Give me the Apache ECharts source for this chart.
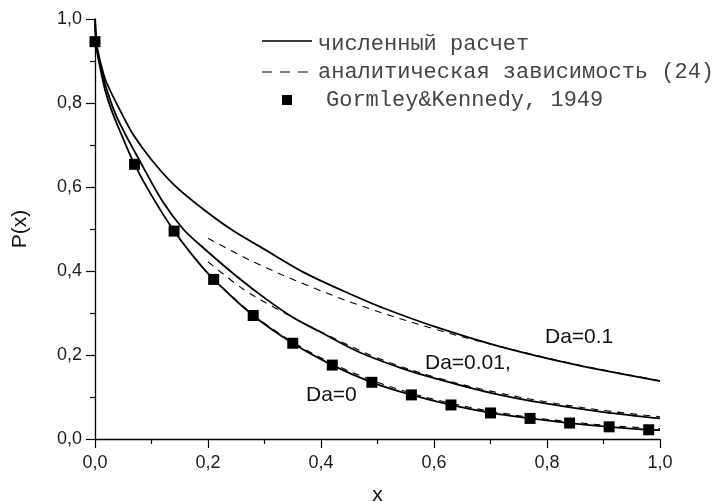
<!DOCTYPE html>
<html>
<head>
    <meta charset="utf-8">
    <title>P(x)</title>
    <script src="https://cdn.jsdelivr.net/npm/echarts@6/dist/echarts.min.js"></script>
</head>
<body style="margin:0">
    <div id="main" style="width:718px;height:502px;"></div>
    <script type="text/javascript">
        // численный расчет, Da=0
        var xDa0 = [0, 0.003, 0.009, 0.018, 0.03, 0.047, 0.07, 0.1, 0.14, 0.177, 0.21, 0.28, 0.35, 0.42, 0.49, 0.56, 0.63, 0.7, 0.77, 0.84, 0.91, 0.98, 1.0];
        var yDa0 = [1.0, 0.93, 0.885, 0.83, 0.78, 0.724, 0.654, 0.58, 0.495, 0.43, 0.38, 0.294, 0.228, 0.176, 0.135, 0.105, 0.081, 0.062, 0.049, 0.038, 0.029, 0.022, 0.021];
        // численный расчет, Da=0.01
        var xDa001 = [0, 0.003, 0.01, 0.02, 0.04, 0.085, 0.12, 0.156, 0.186, 0.25, 0.3, 0.35, 0.4, 0.469, 0.55, 0.6, 0.7, 0.8, 0.9, 1.0];
        var yDa001 = [1.0, 0.935, 0.885, 0.835, 0.762, 0.648, 0.565, 0.5, 0.462, 0.388, 0.336, 0.29, 0.254, 0.206, 0.165, 0.145, 0.110, 0.084, 0.064, 0.049];
        // численный расчет, Da=0.1
        var xDa01 = [0, 0.003, 0.01, 0.02, 0.053, 0.068, 0.1, 0.14, 0.186, 0.242, 0.292, 0.372, 0.469, 0.504, 0.6, 0.717, 0.85, 1.0];
        var yDa01 = [1.0, 0.94, 0.895, 0.85, 0.76, 0.724, 0.665, 0.605, 0.553, 0.498, 0.458, 0.395, 0.335, 0.315, 0.268, 0.220, 0.177, 0.138];
        // аналитическая зависимость (24)
        var xAn0 = [0.21, 0.28, 0.35, 0.42, 0.49, 0.56, 0.63, 0.7, 0.77, 0.84, 0.91, 0.98, 1.0];
        var yAn0 = [0.381, 0.296, 0.231, 0.180, 0.140, 0.109, 0.085, 0.066, 0.052, 0.041, 0.032, 0.026, 0.025];
        var xAn001 = [0.2, 0.26, 0.319, 0.4, 0.5, 0.6, 0.7, 0.8, 0.9, 1.0];
        var yAn001 = [0.422, 0.359, 0.312, 0.255, 0.193, 0.148, 0.114, 0.088, 0.068, 0.053];
        var xAn01 = [0.2, 0.28, 0.372, 0.469, 0.6, 0.7, 0.85, 1.0];
        var yAn01 = [0.478, 0.422, 0.368, 0.318, 0.262, 0.226, 0.178, 0.139];
        // Gormley&Kennedy, 1949
        var xExp = [0, 0.07, 0.14, 0.21, 0.28, 0.35, 0.42, 0.49, 0.56, 0.63, 0.7, 0.77, 0.84, 0.91, 0.98];
        var yExp = [0.946, 0.654, 0.495, 0.38, 0.294, 0.228, 0.176, 0.135, 0.105, 0.081, 0.062, 0.049, 0.038, 0.029, 0.022];

        var ticks = [0, 0.2, 0.4, 0.6, 0.8, 1.0];

        function zip(xs, ys) {
            return xs.map(function (x, i) { return [x, ys[i]]; });
        }
        function fmt(v) {
            return v.toFixed(1).replace('.', ',');
        }

        var myChart = echarts.init(document.getElementById('main'));

        var axisCommon = {
            type: 'value',
            min: ticks[0],
            max: ticks[ticks.length - 1],
            interval: 0.2,
            nameLocation: 'middle',
            nameTextStyle: { fontFamily: 'Liberation Sans', fontSize: 21, color: '#111' },
            axisLine: { lineStyle: { color: '#000', width: 1.3 } },
            axisTick: { inside: false, length: 9, lineStyle: { color: '#000', width: 1.2 } },
            minorTick: { show: true, splitNumber: 2, length: 5, lineStyle: { color: '#000', width: 1.2 } },
            splitLine: { show: false },
            axisLabel: { fontFamily: 'Liberation Sans', fontSize: 18, color: '#1a1a1a', formatter: fmt }
        };

        function solid(xs, ys) {
            return {
                type: 'line', data: zip(xs, ys), showSymbol: false, smooth: 0.35,
                lineStyle: { color: '#000', width: 1.8 }, z: 2
            };
        }
        function dashed(xs, ys) {
            return {
                type: 'line', data: zip(xs, ys), showSymbol: false, smooth: 0.35,
                lineStyle: { color: '#000', width: 1.1, type: [7, 6] }, z: 3
            };
        }

        option = {
            animation: false,
            grid: { left: 95, right: 58, top: 19, bottom: 63, outerBoundsMode: 'none' },
            xAxis: Object.assign({}, axisCommon, {
                name: 'x', nameGap: 46,
                axisLabel: Object.assign({}, axisCommon.axisLabel, { margin: 15 })
            }),
            yAxis: Object.assign({}, axisCommon, {
                name: 'P(x)', nameGap: 64, nameRotate: 90,
                axisLabel: Object.assign({}, axisCommon.axisLabel, { margin: 13 })
            }),
            series: [
                solid(xDa0, yDa0),
                solid(xDa001, yDa001),
                solid(xDa01, yDa01),
                dashed(xAn0, yAn0),
                dashed(xAn001, yAn001),
                dashed(xAn01, yAn01),
                {
                    type: 'scatter', data: zip(xExp, yExp), symbol: 'rect', symbolSize: 11,
                    itemStyle: { color: '#000', opacity: 1 }, z: 5
                }
            ],
            graphic: [
                // легенда
                { type: 'line', shape: { x1: 262, y1: 41, x2: 312, y2: 41 }, style: { stroke: '#000', lineWidth: 1.3 } },
                { type: 'text', x: 318, y: 44, style: { text: 'численный расчет', fontFamily: 'Liberation Mono', fontSize: 22, fill: '#444', verticalAlign: 'middle' } },
                { type: 'line', shape: { x1: 262, y1: 72, x2: 316, y2: 72 }, style: { stroke: '#000', lineWidth: 1.2, lineDash: [10, 8] } },
                { type: 'text', x: 318, y: 72, style: { text: 'аналитическая зависимость (24)', fontFamily: 'Liberation Mono', fontSize: 22, fill: '#444', verticalAlign: 'middle' } },
                { type: 'rect', shape: { x: 282, y: 95, width: 10, height: 10 }, style: { fill: '#000' } },
                { type: 'text', x: 326, y: 100, style: { text: 'Gormley&Kennedy, 1949', fontFamily: 'Liberation Mono', fontSize: 22, fill: '#444', verticalAlign: 'middle' } },
                // подписи кривых
                { type: 'text', x: 545, y: 337, style: { text: 'Da=0.1', fontFamily: 'Liberation Sans', fontSize: 21, fill: '#111', verticalAlign: 'middle' } },
                { type: 'text', x: 425, y: 363, style: { text: 'Da=0.01,', fontFamily: 'Liberation Sans', fontSize: 21, fill: '#111', verticalAlign: 'middle' } },
                { type: 'text', x: 306, y: 395, style: { text: 'Da=0', fontFamily: 'Liberation Sans', fontSize: 21, fill: '#111', verticalAlign: 'middle' } }
            ]
        };
        myChart.setOption(option);
    </script>
</body>
</html>
